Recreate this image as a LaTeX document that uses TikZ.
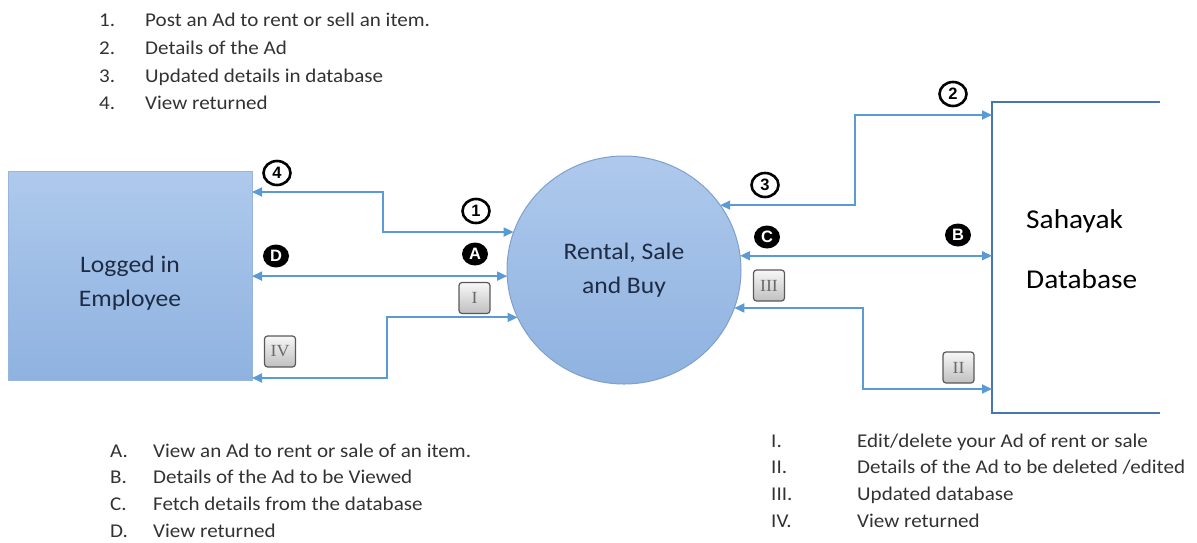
\documentclass[tikz,border=0pt]{standalone}
\usepackage{fontspec}
\setmainfont{Carlito}[FakeStretch=1.08]
\newfontfamily\romfont{Liberation Serif}[FakeStretch=1.05]
\newfontfamily\markfont{Liberation Sans}
\usetikzlibrary{arrows.meta,shapes.geometric}

\definecolor{flowblue}{RGB}{91,155,213}
\definecolor{dbblue}{RGB}{74,118,176}
\definecolor{boxtop}{RGB}{174,201,236}
\definecolor{boxbot}{RGB}{143,178,224}
\definecolor{boxedge}{RGB}{150,182,222}
\definecolor{circedge}{RGB}{128,160,204}
\definecolor{navytext}{RGB}{30,43,68}
\definecolor{listgray}{RGB}{50,50,50}
\definecolor{romgray}{RGB}{105,105,105}

\tikzset{
  flow/.style={draw=flowblue, line width=1.8pt, <->,
    >={Triangle[length=10pt,width=9pt]}},
  empbox/.style={rectangle, draw=boxedge, line width=0.8pt,
    top color=boxtop, bottom color=boxbot,
    minimum width=244pt, minimum height=209pt, outer sep=0pt, inner sep=0pt},
  procc/.style={ellipse, draw=circedge, line width=1pt,
    top color=boxtop, bottom color=boxbot,
    minimum width=234pt, minimum height=228pt, outer sep=0pt, inner sep=0pt,
    align=center, text=navytext, font=\fontsize{23.7}{34}\selectfont},
  bigtext/.style={align=center, text=navytext, inner sep=0pt,
    font=\fontsize{23.7}{33.5}\selectfont},
  dbarea/.style={rectangle, minimum width=168pt, minimum height=311pt,
    outer sep=0pt, inner sep=0pt},
  dbline/.style={draw=dbblue, line width=2.4pt},
  dbtext/.style={anchor=base west, inner sep=0pt, text=black,
    font=\fontsize{27.2}{30}\selectfont},
  numc/.style={ellipse, draw=black, line width=2.6pt, fill=white,
    minimum width=27pt, minimum height=24pt, inner sep=0pt,
    font=\markfont\bfseries\fontsize{16.5}{16.5}\selectfont},
  letc/.style={ellipse, fill=black, text=white,
    minimum width=26pt, minimum height=23pt, inner sep=0pt,
    font=\markfont\bfseries\fontsize{16.5}{16.5}\selectfont},
  rbox/.style={rectangle, rounded corners=3pt, draw=black!65, line width=1.2pt,
    top color=black!3, bottom color=black!25,
    minimum width=31pt, minimum height=31pt, inner xsep=3pt, text=romgray,
    font=\romfont\fontsize{17}{17}\selectfont},
  itemtext/.style={anchor=base west, inner sep=0pt, text=listgray,
    font=\fontsize{19.5}{23}\selectfont}
}

\begin{document}
\begin{tikzpicture}[x=1pt,y=-1pt]
\useasboundingbox (0,0) rectangle (1197,542);

% main entities
\node[empbox] (emp) at (130,275.5) {};
\node[bigtext] (emptext) at (130,283) {Logged in\\Employee};
\node[procc] (rsb) at (624,270) {Rental, Sale\\and Buy};
\node[dbarea] (db) at (1076,257.5) {};
\draw[dbline] (db.north east) -- (db.north west) -- (db.south west) -- (db.south east);
\node[dbtext] (dbt1) at (1026,228) {Sahayak};
\node[dbtext] (dbt2) at (1026,288) {Database};

% bends of the stepped connectors
\coordinate (j1) at (383,192);
\coordinate (j2) at (387,378);
\coordinate (j3) at (855,115);
\coordinate (j4) at (863,389);

% employee <-> process
\draw[flow] (emp.east |- j1) -- (j1) |- (rsb.161);
\draw[flow] (emp.east |- rsb.183) -- (rsb.183);
\draw[flow] (emp.east |- j2) -- (j2) |- (rsb.204);

% process <-> database
\draw[flow] (rsb.34) -| (j3) -- (db.west |- j3);
\draw[flow] (rsb.7) -- (db.west |- rsb.7);
\draw[flow] (rsb.341) -| (j4) -- (db.west |- j4);

% flow markers
\node[numc] (n4) at (277,173) {4};
\node[numc] (n1) at (476,211) {1};
\node[letc] (ld) at (276,256) {D};
\node[letc] (la) at (475,254) {A};
\node[numc] (n3) at (765,185) {3};
\node[letc] (lc) at (767,237) {C};
\node[letc] (lb) at (958,235) {B};
\node[numc] (n2) at (953,94) {2};
\node[rbox] (r1) at (474.5,298) {I};
\node[rbox] (r4) at (280,351.5) {IV};
\node[rbox] (r3) at (769,285.5) {III};
\node[rbox] (r2) at (958.5,367.5) {II};

% legend: numbered flows
\node[itemtext] (k1) at (99,26.7) {1.};
\node[itemtext] (k1t) at (145,26.7) {Post an Ad to rent or sell an item.};
\node[itemtext] (k2) at (99,54.5) {2.};
\node[itemtext] (k2t) at (145,54.5) {Details of the Ad};
\node[itemtext] (k3) at (99,82) {3.};
\node[itemtext] (k3t) at (145,82) {Updated details in database};
\node[itemtext] (k4) at (99,109.5) {4.};
\node[itemtext] (k4t) at (145,109.5) {View returned};

% legend: lettered flows
\node[itemtext] (ka) at (110,457) {A.};
\node[itemtext] (kat) at (153,457) {View an Ad to rent or sale of an item.};
\node[itemtext] (kb) at (110,483.5) {B.};
\node[itemtext] (kbt) at (153,483.5) {Details of the Ad to be Viewed};
\node[itemtext] (kc) at (110,510) {C.};
\node[itemtext] (kct) at (153,510) {Fetch details from the database};
\node[itemtext] (kd) at (110,537) {D.};
\node[itemtext] (kdt) at (153,537) {View returned};

% legend: roman flows
\node[itemtext] (ki) at (771,447) {I.};
\node[itemtext] (kit) at (857,447) {Edit/delete your Ad of rent or sale};
\node[itemtext] (kii) at (771,473.5) {II.};
\node[itemtext] (kiit) at (857,473.5) {Details of the Ad to be deleted /edited};
\node[itemtext] (kiii) at (771,500) {III.};
\node[itemtext] (kiiit) at (857,500) {Updated database};
\node[itemtext] (kiv) at (771,527) {IV.};
\node[itemtext] (kivt) at (857,527) {View returned};
\end{tikzpicture}
\end{document}
